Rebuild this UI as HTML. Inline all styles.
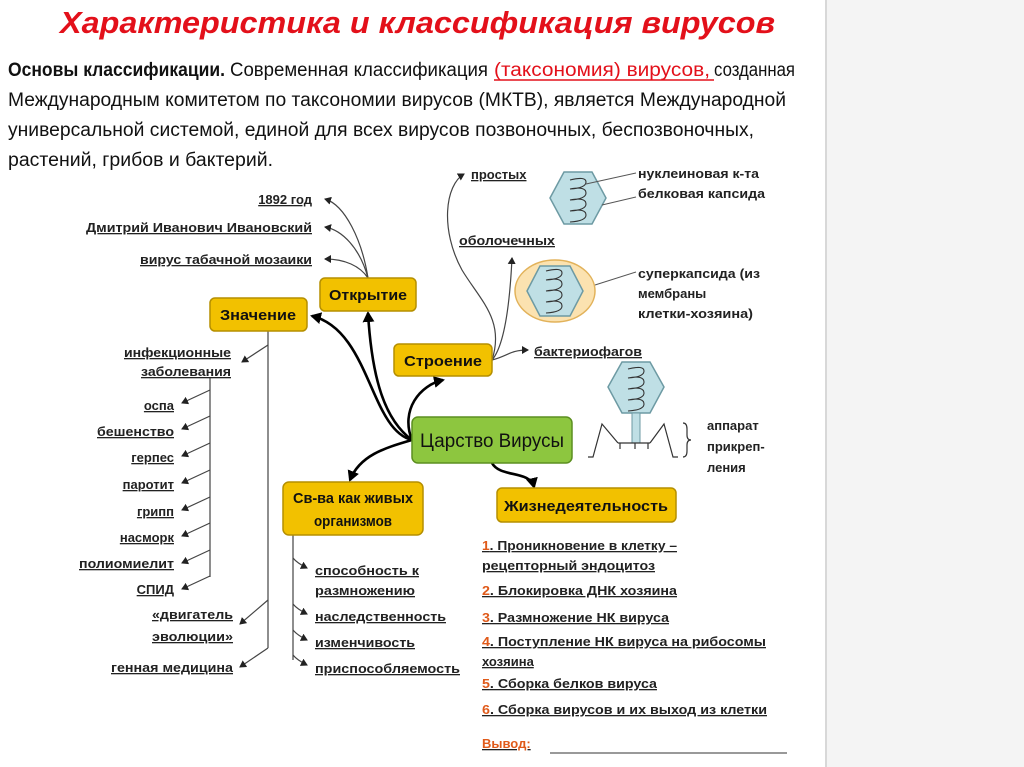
<!DOCTYPE html>
<html><head><meta charset="utf-8"><style>
html,body{margin:0;padding:0;background:#fff}
svg{display:block}
text{font-family:"Liberation Sans",sans-serif}
</style></head><body>
<svg width="1024" height="767" viewBox="0 0 1024 767" xmlns="http://www.w3.org/2000/svg">
<defs>
<marker id="a" markerWidth="8" markerHeight="8" refX="6" refY="4" orient="auto" markerUnits="userSpaceOnUse"><path d="M0,0 L7,4 L0,8 Z" fill="#222"/></marker>
<marker id="b" markerWidth="12" markerHeight="12" refX="9" refY="6" orient="auto" markerUnits="userSpaceOnUse"><path d="M0,0 L11,6 L0,12 Z" fill="#000"/></marker>
</defs>
<rect x="0" y="0" width="1024" height="767" fill="#fff"/>
<rect x="826" y="0" width="198" height="767" fill="#f4f4f4"/>
<line x1="826" y1="0" x2="826" y2="767" stroke="#d8d8d8" stroke-width="2"/>

<text x="60" y="33" font-size="31" font-weight="bold" font-style="italic" fill="#e3101a" textLength="715" lengthAdjust="spacingAndGlyphs">Характеристика и классификация вирусов</text>
<g font-size="19" fill="#111">
<text x="8" y="76" font-weight="bold" textLength="217" lengthAdjust="spacingAndGlyphs">Основы классификации.</text>
<text x="230" y="76" textLength="258" lengthAdjust="spacingAndGlyphs">Современная классификация</text>
<text x="494" y="76" fill="#e3101a" textLength="216" lengthAdjust="spacingAndGlyphs">(таксономия) вирусов,</text>
<line x1="494" y1="80" x2="714" y2="80" stroke="#e3101a" stroke-width="1.5"/>
<text x="714" y="76" textLength="81" lengthAdjust="spacingAndGlyphs">созданная</text>
<text x="8" y="106" textLength="778" lengthAdjust="spacingAndGlyphs">Международным комитетом по таксономии вирусов (МКТВ), является Международной</text>
<text x="8" y="136" textLength="746" lengthAdjust="spacingAndGlyphs">универсальной системой, единой для всех вирусов позвоночных, беспозвоночных,</text>
<text x="8" y="166" textLength="265" lengthAdjust="spacingAndGlyphs">растений, грибов и бактерий.</text>
</g>

<g fill="none" stroke="#444" stroke-width="1.2">
<path d="M368,278 C362,240 345,205 325,199" marker-end="url(#a)"/>
<path d="M368,278 C360,248 342,230 325,227" marker-end="url(#a)"/>
<path d="M368,278 C360,266 345,259 325,259" marker-end="url(#a)"/>
<path d="M268,330 L268,648"/>
<path d="M268,345 L242,362" marker-end="url(#a)"/>
<path d="M210,378 L210,577"/>
<path d="M210,390 L182,403" marker-end="url(#a)"/>
<path d="M210,416 L182,429" marker-end="url(#a)"/>
<path d="M210,443 L182,456" marker-end="url(#a)"/>
<path d="M210,470 L182,483" marker-end="url(#a)"/>
<path d="M210,497 L182,510" marker-end="url(#a)"/>
<path d="M210,523 L182,536" marker-end="url(#a)"/>
<path d="M210,550 L182,563" marker-end="url(#a)"/>
<path d="M210,576 L182,589" marker-end="url(#a)"/>
<path d="M268,600 L240,624" marker-end="url(#a)"/>
<path d="M268,648 L240,667" marker-end="url(#a)"/>
<path d="M293,535 L293,660"/>
<path d="M293,558 Q297,563 307,568" marker-end="url(#a)"/>
<path d="M293,604 Q297,609 307,614" marker-end="url(#a)"/>
<path d="M293,630 Q297,635 307,640" marker-end="url(#a)"/>
<path d="M293,655 Q297,660 307,665" marker-end="url(#a)"/>
<path d="M492,360 C505,345 510,300 512,258" marker-end="url(#a)"/>
<path d="M492,360 C505,320 480,300 462,270 C440,230 445,185 464,174" marker-end="url(#a)"/>
<path d="M492,360 C508,356 510,350 528,350" marker-end="url(#a)"/>
</g>
<g fill="none" stroke="#000" stroke-width="2.6">
<path d="M412,440 C370,430 370,330 312,316" marker-end="url(#b)"/>
<path d="M412,440 C385,420 372,380 368,313" marker-end="url(#b)"/>
<path d="M412,440 C400,410 420,385 443,380" marker-end="url(#b)"/>
<path d="M412,440 C385,448 360,455 350,480" marker-end="url(#b)"/>
<path d="M492,463 C500,478 530,470 534,487" marker-end="url(#b)"/>
</g>

<g stroke="#b58f00" stroke-width="1.5" fill="#f2c100">
<rect x="320" y="278" width="96" height="33" rx="5"/>
<rect x="210" y="298" width="97" height="33" rx="5"/>
<rect x="394" y="344" width="98" height="32" rx="5"/>
<rect x="283" y="482" width="140" height="53" rx="6"/>
<rect x="497" y="488" width="179" height="34" rx="5"/>
</g>
<rect x="412" y="417" width="160" height="46" rx="6" fill="#8dc63f" stroke="#5c8f20" stroke-width="1.5"/>
<g font-weight="bold" font-size="15" fill="#111" text-anchor="middle">
<text x="368" y="300" textLength="78" lengthAdjust="spacingAndGlyphs">Открытие</text>
<text x="258" y="320" textLength="76" lengthAdjust="spacingAndGlyphs">Значение</text>
<text x="443" y="366" textLength="78" lengthAdjust="spacingAndGlyphs">Строение</text>
<text x="353" y="503" textLength="120" lengthAdjust="spacingAndGlyphs">Св-ва как живых</text>
<text x="353" y="526" textLength="78" lengthAdjust="spacingAndGlyphs">организмов</text>
<text x="586" y="511" textLength="164" lengthAdjust="spacingAndGlyphs">Жизнедеятельность</text>
</g>
<text x="492" y="447" font-size="19" fill="#111" text-anchor="middle" textLength="144" lengthAdjust="spacingAndGlyphs">Царство Вирусы</text>

<g font-weight="bold" font-size="13" fill="#222" text-decoration="underline">
<g text-anchor="end">
<text x="312" y="204">1892 год</text>
<text x="312" y="232" textLength="226" lengthAdjust="spacingAndGlyphs">Дмитрий Иванович Ивановский</text>
<text x="312" y="264" textLength="172" lengthAdjust="spacingAndGlyphs">вирус табачной мозаики</text>
<text x="231" y="357" textLength="107" lengthAdjust="spacingAndGlyphs">инфекционные</text>
<text x="231" y="376" textLength="90" lengthAdjust="spacingAndGlyphs">заболевания</text>
<text x="174" y="410">оспа</text>
<text x="174" y="436" textLength="77" lengthAdjust="spacingAndGlyphs">бешенство</text>
<text x="174" y="462">герпес</text>
<text x="174" y="489">паротит</text>
<text x="174" y="516">грипп</text>
<text x="174" y="542">насморк</text>
<text x="174" y="568" textLength="95" lengthAdjust="spacingAndGlyphs">полиомиелит</text>
<text x="174" y="594">СПИД</text>
<text x="233" y="619" textLength="81" lengthAdjust="spacingAndGlyphs">«двигатель</text>
<text x="233" y="641" textLength="81" lengthAdjust="spacingAndGlyphs">эволюции»</text>
<text x="233" y="672" textLength="122" lengthAdjust="spacingAndGlyphs">генная медицина</text>
</g>
<text x="315" y="575" textLength="104" lengthAdjust="spacingAndGlyphs">способность к</text>
<text x="315" y="595" textLength="100" lengthAdjust="spacingAndGlyphs">размножению</text>
<text x="315" y="621" textLength="131" lengthAdjust="spacingAndGlyphs">наследственность</text>
<text x="315" y="647" textLength="100" lengthAdjust="spacingAndGlyphs">изменчивость</text>
<text x="315" y="673" textLength="145" lengthAdjust="spacingAndGlyphs">приспособляемость</text>
<text x="471" y="179">простых</text>
<text x="459" y="245" textLength="96" lengthAdjust="spacingAndGlyphs">оболочечных</text>
<text x="534" y="356" textLength="108" lengthAdjust="spacingAndGlyphs">бактериофагов</text>
<text x="482" y="550" textLength="195" lengthAdjust="spacingAndGlyphs"><tspan fill="#e05a1a">1</tspan>. Проникновение в клетку –</text>
<text x="482" y="570" textLength="173" lengthAdjust="spacingAndGlyphs">рецепторный эндоцитоз</text>
<text x="482" y="595" textLength="195" lengthAdjust="spacingAndGlyphs"><tspan fill="#e05a1a">2</tspan>. Блокировка ДНК хозяина</text>
<text x="482" y="622" textLength="187" lengthAdjust="spacingAndGlyphs"><tspan fill="#e05a1a">3</tspan>. Размножение НК вируса</text>
<text x="482" y="646" textLength="284" lengthAdjust="spacingAndGlyphs"><tspan fill="#e05a1a">4</tspan>. Поступление НК вируса на рибосомы</text>
<text x="482" y="666">хозяина</text>
<text x="482" y="688" textLength="175" lengthAdjust="spacingAndGlyphs"><tspan fill="#e05a1a">5</tspan>. Сборка белков вируса</text>
<text x="482" y="714" textLength="285" lengthAdjust="spacingAndGlyphs"><tspan fill="#e05a1a">6</tspan>. Сборка вирусов и их выход из клетки</text>
<text x="482" y="748" fill="#e05a1a">Вывод:</text>
</g>
<line x1="550" y1="753" x2="787" y2="753" stroke="#333" stroke-width="1"/>

<g font-weight="bold" font-size="13" fill="#222">
<text x="638" y="178" textLength="121" lengthAdjust="spacingAndGlyphs">нуклеиновая к-та</text>
<text x="638" y="198" textLength="127" lengthAdjust="spacingAndGlyphs">белковая капсида</text>
<text x="638" y="278" textLength="122" lengthAdjust="spacingAndGlyphs">суперкапсида (из</text>
<text x="638" y="298">мембраны</text>
<text x="638" y="318" textLength="115" lengthAdjust="spacingAndGlyphs">клетки-хозяина)</text>
<text x="707" y="430">аппарат</text>
<text x="707" y="451">прикреп-</text>
<text x="707" y="472">ления</text>
</g>

<polygon points="550,198 564,172 592,172 606,198 592,224 564,224" fill="#bfdfe5" stroke="#6d9aa3" stroke-width="1.5"/>
<path d="M570,180 q16,-4 16,2 q0,6 -16,7 q16,-3 16,4 q0,6 -16,7 q16,-3 16,4 q0,6 -16,7 q16,-3 16,4 q0,6 -16,7" fill="none" stroke="#333" stroke-width="1.1"/>
<line x1="586" y1="184" x2="636" y2="173" stroke="#555"/>
<line x1="602" y1="205" x2="636" y2="197" stroke="#555"/>
<ellipse cx="555" cy="291" rx="40" ry="31" fill="#fbe2b0" stroke="#e2b25a" stroke-width="1.5"/>
<polygon points="527,291 540,266 570,266 583,291 570,316 540,316" fill="#bfdfe5" stroke="#6d9aa3" stroke-width="1.5"/>
<path d="M546,271 q16,-4 16,2 q0,6 -16,7 q16,-3 16,4 q0,6 -16,7 q16,-3 16,4 q0,6 -16,7 q16,-3 16,4 q0,6 -16,7" fill="none" stroke="#333" stroke-width="1.1"/>
<line x1="595" y1="285" x2="636" y2="272" stroke="#555"/>
<polygon points="608,387 622,362 650,362 664,387 650,413 622,413" fill="#bfdfe5" stroke="#6d9aa3" stroke-width="1.5"/>
<path d="M628,369 q16,-4 16,2 q0,6 -16,7 q16,-3 16,4 q0,6 -16,7 q16,-3 16,4 q0,6 -16,7 q16,-3 16,4 q0,6 -16,7" fill="none" stroke="#333" stroke-width="1.1"/>
<rect x="632" y="413" width="8" height="30" fill="#bfdfe5" stroke="#6d9aa3"/>
<g fill="none" stroke="#333" stroke-width="1.2">
<path d="M618,443 L650,443"/>
<path d="M618,443 L602,424 L593,457 L588,457"/>
<path d="M650,443 L664,424 L673,457 L678,457"/>
<path d="M620,443 v6 M635,443 v6 M648,443 v6"/>
<path d="M683,423 q4,0 4,6 v6 q0,5 4,5 q-4,0 -4,5 v6 q0,6 -4,6"/>
</g>
</svg>
</body></html>
